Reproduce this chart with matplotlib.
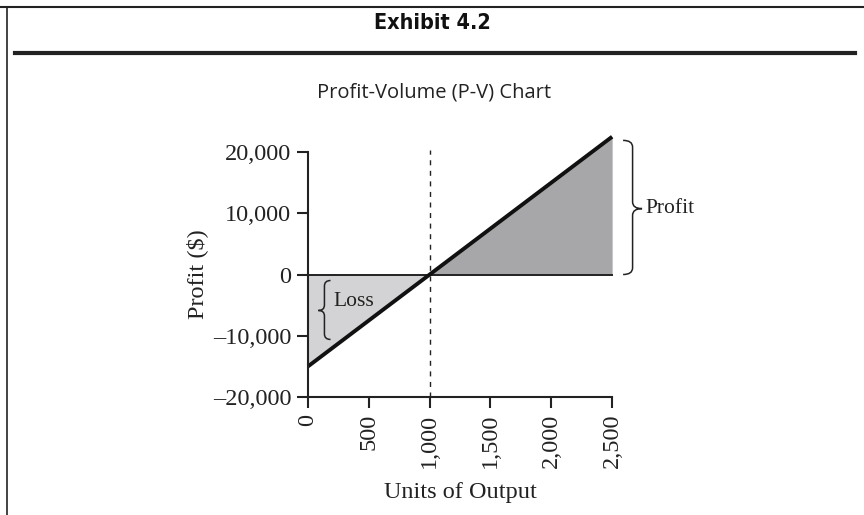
import matplotlib.pyplot as plt
from matplotlib.path import Path
from matplotlib.patches import PathPatch
from matplotlib.lines import Line2D

units = [0, 1000, 2500]
profit = [-15000, 0, 22500]
break_even = 1000
x_ticks = [0, 500, 1000, 1500, 2000, 2500]
x_tick_labels = ['0', '500', '1,000', '1,500', '2,000', '2,500']
y_ticks = [-20000, -10000, 0, 10000, 20000]
y_tick_labels = ['\u201320,000', '\u201310,000', '0', '10,000', '20,000']

serif = ['Liberation Serif', 'DejaVu Serif']
fs = 17.5


def brace(ax, x0, ytop, ybot, ymid, w, r):
    # curly brace, back at x0, tip at x0 + w (w < 0 gives "{")
    h = x0 + w / 2
    verts = [(x0, ytop), (h, ytop), (h, ytop - r),
             (h, ymid + r), (h, ymid), (x0 + w, ymid),
             (h, ymid), (h, ymid - r),
             (h, ybot + r), (h, ybot), (x0, ybot)]
    codes = [Path.MOVETO, Path.CURVE3, Path.CURVE3,
             Path.LINETO, Path.CURVE3, Path.CURVE3,
             Path.CURVE3, Path.CURVE3,
             Path.LINETO, Path.CURVE3, Path.CURVE3]
    ax.add_patch(PathPatch(Path(verts, codes), fill=False, lw=1.1,
                           edgecolor='#222222', clip_on=False))


fig = plt.figure(figsize=(8.64, 5.15), dpi=100)

# frame and header
fig.add_artist(Line2D([0, 1], [0.986, 0.986], color='#222222', lw=1.5))
fig.add_artist(Line2D([0.008, 0.008], [0, 0.986], color='#222222', lw=1.2))
fig.add_artist(Line2D([0.017, 0.99], [0.897, 0.897], color='#222222', lw=3))
fig.text(0.5, 0.955, 'Exhibit 4.2', ha='center', va='center',
         fontsize=15.5, fontweight='heavy', fontstretch='condensed',
         family=['DejaVu Sans'], color='#111111')
fig.text(0.502, 0.82, 'Profit-Volume (P-V) Chart', ha='center', va='center',
         fontsize=14.5, family=['Open Sans', 'DejaVu Sans'], color='#222222')

ax = fig.add_axes([0.3565, 0.2291, 0.352, 0.4757])
ax.set_xlim(0, 2500)
ax.set_ylim(-20000, 20000)

ax.fill_between(units[:2], profit[:2], 0, color='#d3d3d5', lw=0, clip_on=False)
ax.fill_between(units[1:], profit[1:], 0, color='#a7a7a9', lw=0, clip_on=False)
ax.plot([0, 2500], [0, 0], color='#222222', lw=1.4, clip_on=False)
ax.plot(units, profit, color='#111111', lw=2.8, clip_on=False,
        solid_capstyle='butt')
ax.plot([break_even, break_even], [-20000, 20300], color='#222222', lw=1,
        dashes=(3.6, 4.0), clip_on=False)

for side in ['top', 'right']:
    ax.spines[side].set_visible(False)
for side in ['left', 'bottom']:
    ax.spines[side].set_linewidth(1.5)
    ax.spines[side].set_color('#222222')

ax.set_xticks(x_ticks)
ax.set_xticklabels(x_tick_labels, rotation=90, family=serif, fontsize=fs)
ax.set_yticks(y_ticks)
ax.set_yticklabels(y_tick_labels, family=serif, fontsize=fs)
ax.tick_params(direction='out', length=8, width=1.5, color='#222222',
               labelcolor='#222222', pad=4)
ax.set_xlabel('Units of Output', family=serif, fontsize=fs, color='#222222',
              labelpad=10)
ax.set_ylabel('Profit ($)', family=serif, fontsize=fs, color='#222222',
              labelpad=3.5)

brace(ax, 2590, 21900, 0, 10760, 156, 1100)
ax.text(2770, 10760, 'Profit', family=serif, fontsize=15.5, color='#222222',
        va='center', ha='left')
brace(ax, 185, -980, -10600, -5870, -100, 900)
ax.text(205, -4400, 'Loss', family=serif, fontsize=15.5, color='#222222',
        va='center', ha='left')

fig.savefig('out.png', dpi=100)
